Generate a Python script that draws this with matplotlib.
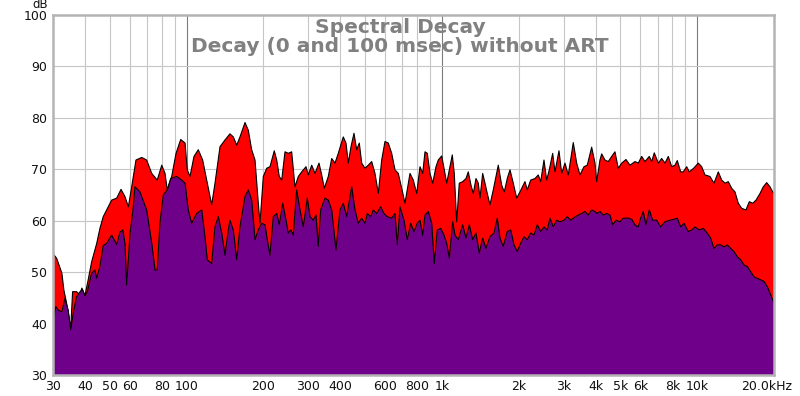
import matplotlib
matplotlib.use("Agg")
import matplotlib.pyplot as plt
import matplotlib.transforms as mtransforms

# ---- data: 0 msec (red) ----
red_freq = [30.1, 31.0, 32.5, 33.1, 33.9, 35.2, 35.8, 37.1, 38.3, 38.9, 40.0, 41.2, 42.5, 44.5, 45.8,
            47.2, 50.9, 53.3, 55.4, 57.4, 59.2, 61.0, 63.4, 66.8, 69.8, 73.1, 76.8, 80.0, 82.4, 84.1,
            87.5, 91.0, 94.9, 98.7, 100.7, 103.2, 107.0, 111.2, 115.7, 120.0, 125.5, 129.3, 135.3,
            141.5, 148.0, 152.5, 157.3, 162.0, 169.5, 174.6, 180.0, 185.5, 191.1, 194.0, 199.9,
            206.1, 212.3, 220.7, 225.6, 230.9, 236.0, 243.1, 250.4, 258.2, 266.0, 274.1, 282.6,
            293.8, 299.9, 309.3, 318.6, 330.3, 338.5, 346.5, 359.2, 370.4, 381.6, 393.1, 411.2,
            421.4, 430.2, 440.8, 452.9, 464.1, 475.1, 485.5, 500.1, 515.2, 531.3, 547.3, 563.9,
            581.4, 599.0, 617.1, 636.3, 655.5, 675.3, 696.4, 717.4, 750.5, 773.1, 797.2, 821.3,
            841.6, 859.2, 877.2, 898.8, 921.0, 948.8, 968.7, 998.8, 1022.6, 1044.9, 1069.7, 1099.0,
            1118.9, 1143.5, 1170.5, 1207.0, 1243.5, 1269.5, 1300.9, 1328.1, 1360.9, 1389.4, 1410.8,
            1445.6, 1475.9, 1506.9, 1543.9, 1590.6, 1664.0, 1715.7, 1756.5, 1804.6, 1849.2, 1904.9,
            1964.3, 2023.5, 2116.9, 2161.4, 2228.6, 2316.7, 2386.8, 2438.9, 2512.7, 2574.5, 2635.7,
            2717.7, 2774.7, 2876.8, 2947.5, 3036.6, 3128.4, 3272.4, 3374.4, 3476.1, 3603.9, 3712.8,
            3862.8, 3979.8, 4041, 4163, 4228, 4355, 4487, 4627, 4766, 4910, 5063, 5264, 5457, 5709,
            5881, 6065, 6248, 6495, 6637, 6794, 7044, 7263, 7482, 7709, 7948, 8189, 8360, 8621, 8825,
            9100, 9316, 9688, 10105, 10420, 10733, 11229, 11642, 12102, 12479, 12855, 13244, 13656,
            14069, 14494, 14945, 15536, 16006, 16503, 17003, 17627, 18159, 18725, 19290, 19766, 20000]
red_db = [53.5, 52.7, 49.8, 46.5, 44.0, 39.1, 46.2, 46.2, 45.6, 46.9, 45.4, 48.5, 52.0, 55.6, 58.5,
          60.8, 64.0, 64.4, 66.1, 64.7, 62.7, 66.6, 71.8, 72.3, 71.8, 69.2, 67.9, 70.8, 69.2, 66.0,
          68.6, 73.1, 75.8, 75.1, 69.9, 68.6, 72.5, 73.8, 71.8, 67.9, 63.1, 67.3, 74.4,
          75.7, 76.9, 76.3, 74.7, 76.3, 79.1, 77.6, 73.8, 71.8, 63.4, 59.5, 68.6,
          70.2, 70.5, 73.6, 71.8, 68.6, 67.9, 73.4, 73.1, 73.4, 66.6, 68.6, 69.5,
          70.5, 68.9, 70.8, 69.2, 71.2, 68.9, 66.3, 68.6, 72.1, 71.2, 73.1, 76.3,
          75.1, 71.2, 74.4, 77.0, 73.8, 75.1, 71.2, 70.2, 70.8, 71.5, 69.2, 65.3,
          71.8, 75.4, 75.1, 73.1, 69.9, 69.2, 66.3, 63.4, 69.2, 67.9, 65.3, 70.5,
          69.2, 73.4, 73.1, 69.2, 67.3, 70.5, 71.8, 72.6, 69.9, 67.3, 69.9, 72.8,
          69.2, 59.8, 67.3, 67.6, 68.2, 69.5, 66.9, 65.3, 68.2, 67.3, 64.4,
          69.2, 67.3, 65.3, 63.1, 66.0, 70.8, 66.9, 65.6, 68.2, 69.9, 67.3,
          64.4, 65.6, 67.6, 66.0, 67.9, 68.2, 68.9, 67.6, 71.8, 67.9, 69.9,
          73.1, 69.5, 73.6, 69.2, 71.2, 68.9, 75.2, 71.2, 68.9, 70.5, 70.8,
          74.3, 71.2, 67.6, 71.8, 73.0, 71.8, 71.5, 72.5, 73.4, 70.2, 71.2, 71.9, 70.8, 71.5,
          71.2, 72.5, 71.5, 72.5, 71.5, 73.2, 71.2, 72.1, 71.2, 72.5, 70.5, 70.8, 71.7, 69.5, 69.5,
          70.5, 69.5, 70.2, 71.2, 70.5, 68.9, 68.6, 67.3, 69.5, 67.9, 67.3, 67.6, 66.3,
          65.6, 63.4, 62.4, 62.1, 63.7, 63.4, 64.0, 65.3, 66.6, 67.4, 66.6, 65.6, 65.3]

# ---- data: 100 msec (purple) ----
purple_freq = [30.1, 30.8, 31.5, 32.5, 33.4, 34.4, 35.2, 36.0, 37.1, 38.3, 39.1, 40.0, 40.9, 42.5, 43.8,
               44.5, 45.8, 47.2, 48.7, 50.9, 53.3, 54.9, 56.3, 57.4, 58.3, 60.1, 61.9, 62.8, 65.7, 69.8,
               73.1, 75.3, 76.8, 78.7, 81.1, 84.1, 86.7, 91.5, 95.8, 98.7, 101.6, 104.8, 109.6, 114.7,
               118.1, 120.6, 125.5, 129.3, 133.2, 137.4, 141.5, 145.8, 148.0, 152.5, 157.3, 162.0,
               169.5, 174.6, 180.0, 185.5, 191.1, 197.0, 203.0, 207.2, 212.3, 218.8, 225.6, 230.9,
               238.1, 245.3, 250.4, 256.6, 262.0, 270.1, 278.3, 286.7, 297.2, 304.6, 313.8, 321.5,
               328.2, 335.4, 348.7, 359.2, 370.4, 385.0, 399.2, 411.2, 424.0, 443.6, 457.0, 470.8,
               485.5, 500.1, 510.6, 526.5, 539.0, 555.8, 576.2, 593.6, 611.6, 636.3, 655.5, 669.2,
               685.7, 710.9, 732.3, 755.3, 778.1, 801.7, 821.3, 841.6, 859.2, 885.1, 912.7, 934.4,
               960.0, 989.9, 1019.8, 1044.9, 1069.7, 1103.0, 1126.1, 1160.1, 1207.0, 1243.5, 1281.0,
               1320.9, 1360.9, 1401.9, 1445.6, 1489.2, 1543.9, 1600.7, 1649.0, 1689.8, 1740.7, 1804.6,
               1860.9, 1917.0, 1974.9, 2036.3, 2097.9, 2161.4, 2228.6, 2295.9, 2365.4, 2438.9, 2512.7,
               2588.5, 2652.2, 2732.4, 2817.4, 2902.6, 3009.3, 3099.9, 3196.5, 3293.1, 3423.6, 3530.4,
               3636.6, 3746.7, 3862.8, 3979.8, 4041, 4163, 4289, 4423, 4556, 4669, 4810, 4986, 5137,
               5374, 5541, 5709, 5881, 6009, 6152, 6303, 6495, 6696, 6942, 7198, 7482, 7828, 8115,
               8360, 8621, 8880, 9232, 9519, 9807, 10195, 10570, 10958, 11299, 11642, 11993, 12366,
               12740, 13125, 13533, 13943, 14363, 14811, 15257, 15719, 16209, 16698, 17203, 17739,
               18274, 18827, 19290, 19873, 20000]
purple_db = [41.0, 43.3, 42.6, 42.3, 44.9, 42.6, 38.8, 42.0, 45.2, 46.2, 46.7, 45.4, 46.2, 49.8, 50.4,
             48.8, 51.1, 55.2, 55.6, 57.2, 55.4, 57.8, 58.2, 55.6, 47.5, 57.5, 62.7, 66.6, 65.6, 62.1,
             55.6, 50.4, 50.4, 59.5, 65.0, 66.0, 68.2, 68.6, 67.9, 67.3, 62.1, 59.5, 61.4, 62.1,
             56.9, 52.4, 51.7, 58.8, 60.8, 57.6, 53.3, 58.2, 60.1, 58.2, 52.4, 58.8,
             64.7, 66.0, 64.0, 56.3, 58.2, 59.5, 59.2, 56.3, 53.3, 60.8, 61.4, 59.2,
             63.4, 60.1, 57.6, 58.2, 57.2, 66.0, 62.1, 58.8, 64.4, 60.8, 60.1, 61.1,
             55.0, 62.1, 64.4, 64.0, 62.1, 54.3, 62.1, 63.4, 60.8, 66.6, 62.1, 59.5,
             60.5, 59.5, 61.4, 60.8, 62.1, 61.4, 62.7, 61.4, 60.8, 60.5, 61.4, 55.3,
             62.7, 60.1, 56.3, 59.5, 57.9, 59.5, 60.1, 57.2, 61.1, 61.8, 59.5, 51.7,
             58.2, 58.5, 57.2, 55.6, 52.7, 59.8, 57.2, 56.3, 59.2, 56.6, 59.2,
             56.3, 57.6, 53.7, 56.6, 54.6, 56.9, 57.6, 60.5, 56.6, 55.0, 57.9,
             58.2, 55.3, 54.0, 55.6, 56.9, 56.3, 57.6, 57.2, 59.2, 57.9, 58.8,
             58.2, 60.5, 58.8, 60.1, 59.8, 60.1, 60.8, 60.1, 60.6, 61.1, 61.4,
             61.8, 61.1, 62.1, 61.8, 61.4, 61.8, 61.1, 61.4, 61.1, 59.2, 60.1, 59.8, 60.5,
             60.5, 60.3, 59.2, 58.8, 60.5, 61.8, 59.2, 62.1, 60.1, 60.1, 58.8, 59.8, 60.1, 60.3,
             60.5, 58.8, 59.5, 57.9, 58.2, 58.8, 58.2, 58.5, 57.6, 56.6, 54.6, 55.3, 55.3,
             54.9, 55.3, 54.6, 54.0, 53.0, 52.4, 51.4, 51.1, 50.1, 49.1, 48.8, 48.5,
             48.2, 47.2, 45.9, 44.3, 44.0]

# ---- axis labels / grid ----
xtick_vals = [30, 40, 50, 60, 80, 100, 200, 300, 400, 600, 800, 1000, 2000, 3000, 4000, 5000,
              6000, 8000, 10000, 20000]
xtick_labels = ["30", "40", "50", "60", "80", "100", "200", "300", "400", "600", "800", "1k",
                "2k", "3k", "4k", "5k", "6k", "8k", "10k", "20.0kHz"]
ytick_vals = [30, 40, 50, 60, 70, 80, 90, 100]
minor_grid = [40, 50, 60, 70, 80, 90, 200, 300, 400, 500, 600, 700, 800, 900,
              2000, 3000, 4000, 5000, 6000, 7000, 8000, 9000]
major_grid = [100, 1000, 10000]
title_lines = ["Spectral Decay", "Decay (0 and 100 msec) without ART"]

RED = "#ff0000"
PURPLE = "#6f0089"

fig = plt.figure(figsize=(8.0, 3.96), dpi=100)
ax = fig.add_axes([53 / 800, 21 / 396, 721 / 800, 360 / 396])
ax.set_xscale("log")
ax.set_xlim(30, 20000)
ax.set_ylim(30, 100)

for g in minor_grid:
    ax.axvline(g, color="#c6c6c6", lw=0.8, zorder=0)
for g in major_grid:
    ax.axvline(g, color="#7c7c7c", lw=0.8, zorder=0)
for yv in ytick_vals[1:-1]:
    ax.axhline(yv, color="#c6c6c6", lw=0.8, zorder=0)

ax.fill_between(red_freq, red_db, 0, color=RED, lw=0, zorder=2)
ax.plot(red_freq, red_db, color="black", lw=0.8, zorder=3)
ax.fill_between(purple_freq, purple_db, 0, color=PURPLE, lw=0, zorder=4)
ax.plot(purple_freq, purple_db, color="black", lw=0.8, zorder=5)

ax.xaxis.set_minor_locator(matplotlib.ticker.NullLocator())
ax.set_xticks(xtick_vals)
ax.set_xticklabels(xtick_labels)
ax.set_yticks(ytick_vals)
ax.set_yticklabels([str(v) for v in ytick_vals])
ax.tick_params(axis="both", length=0, labelsize=9, colors="#111111")
ax.tick_params(axis="x", pad=3.5)
ax.tick_params(axis="y", pad=4)
lbls = ax.get_xticklabels()
offset = mtransforms.ScaledTranslation(-7 / 100, 0, fig.dpi_scale_trans)
lbls[-1].set_transform(lbls[-1].get_transform() + offset)

for sp in ax.spines.values():
    sp.set_color("#b4b4b4")
    sp.set_linewidth(1.8)
    sp.set_zorder(6)

fig.text(40 / 800, 1 - 8.5 / 396, "dB", ha="center", va="baseline", fontsize=8.5, color="#111111")
fig.text(400 / 800, 1 - 33 / 396, title_lines[0], ha="center", va="baseline",
         fontsize=14.5, fontweight="bold", color="#808080")
fig.text(400 / 800, 1 - 52 / 396, title_lines[1], ha="center", va="baseline",
         fontsize=14.5, fontweight="bold", color="#808080")

fig.savefig("out.png", dpi=100)
